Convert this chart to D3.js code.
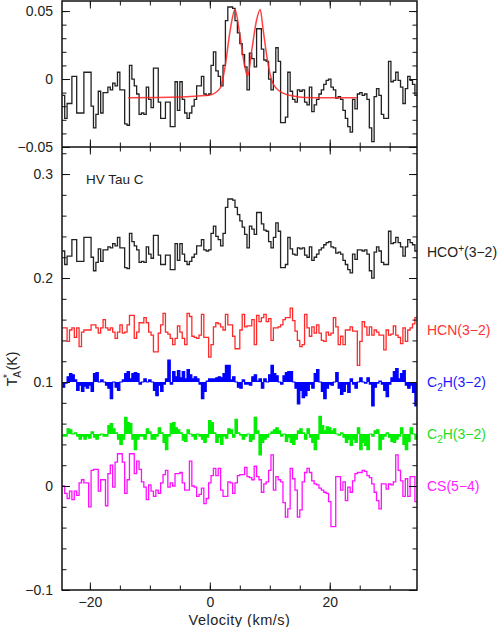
<!DOCTYPE html>
<html><head><meta charset="utf-8">
<script src="https://cdn.jsdelivr.net/npm/d3@7"></script>
<style>body{margin:0;background:#fff} text{font-family:"Liberation Sans",Arial,sans-serif}</style>
</head><body><svg id="c" width="500" height="627"></svg>
<script>
// channel grid (km/s)
const velStart = -24.6, chanWidth = 0.4;

// top panel: HCO+ spectrum with fit
const topSpec = [
-0.012,-0.029,-0.018,-0.018,0.002,0.002,-0.025,-0.025,-0.025,0.005,
0.005,0.005,-0.020,-0.036,-0.026,-0.009,-0.025,-0.010,-0.010,-0.006,
-0.008,-0.003,-0.005,0.005,-0.008,-0.008,-0.033,-0.034,0.010,0.000,
-0.005,-0.011,-0.026,-0.025,-0.026,-0.006,-0.015,-0.021,0.008,0.008,
-0.017,-0.029,-0.029,-0.017,-0.017,-0.035,-0.035,-0.002,-0.023,-0.002,
-0.015,-0.025,-0.029,-0.025,-0.020,-0.015,-0.005,-0.005,0.002,-0.011,
-0.012,-0.011,0.010,0.020,0.006,0.002,-0.005,0.010,0.043,0.053,
0.053,0.052,0.043,0.034,0.026,0.018,0.009,-0.008,0.019,0.015,
0.009,0.037,0.037,0.022,0.014,0.013,0.000,-0.008,0.005,0.023,
0.013,-0.032,-0.032,-0.028,0.005,-0.009,-0.015,-0.017,-0.008,-0.009,
-0.008,-0.017,-0.019,-0.006,-0.024,-0.019,-0.015,-0.011,-0.008,-0.004,
-0.001,0.000,-0.006,-0.008,-0.014,-0.013,-0.015,-0.023,-0.029,-0.035,
-0.039,-0.015,-0.022,-0.011,-0.010,-0.012,-0.011,-0.015,-0.036,-0.046,
-0.013,-0.007,-0.012,-0.026,-0.029,-0.029,0.013,-0.002,-0.001,0.005,
-0.001,-0.006,-0.018,-0.007,0.002,-0.001,-0.004,-0.012];

const fitVel = [-13.6,-5,-2,0,1.7,2.55,3.4,4.2,5.05,5.9,6.3,7.0,7.8,8.4,8.9,9.6,10.3,11.1,12.3,13.9,15.8,19,24.5];
const fitT = [-0.0138,-0.0133,-0.0125,-0.0118,-0.0069,0.0091,0.036,0.0512,0.0311,0.0078,0.0022,0.0213,0.0434,0.0512,0.036,0.014,-0.0007,-0.0069,-0.0105,-0.0125,-0.0135,-0.0138,-0.0138];

// bottom panel spectra (offset)
const hcoSpec = [
0.226,0.213,0.221,0.221,0.237,0.237,0.216,0.216,0.216,0.239,
0.239,0.239,0.220,0.207,0.215,0.228,0.216,0.227,0.227,0.230,
0.229,0.233,0.231,0.239,0.229,0.229,0.210,0.209,0.243,0.235,
0.231,0.227,0.215,0.216,0.215,0.230,0.223,0.219,0.241,0.241,
0.222,0.213,0.213,0.222,0.222,0.208,0.208,0.233,0.217,0.233,
0.223,0.216,0.213,0.216,0.220,0.223,0.231,0.231,0.237,0.227,
0.226,0.227,0.243,0.250,0.240,0.237,0.231,0.243,0.268,0.276,
0.276,0.275,0.268,0.261,0.255,0.249,0.242,0.229,0.250,0.247,
0.242,0.263,0.263,0.252,0.246,0.245,0.235,0.229,0.239,0.253,
0.245,0.210,0.210,0.213,0.239,0.228,0.223,0.222,0.229,0.228,
0.229,0.222,0.220,0.230,0.217,0.220,0.223,0.227,0.229,0.232,
0.234,0.235,0.230,0.229,0.224,0.225,0.223,0.217,0.213,0.208,
0.205,0.223,0.218,0.227,0.227,0.226,0.227,0.223,0.207,0.200,
0.225,0.230,0.226,0.215,0.213,0.213,0.245,0.233,0.234,0.239,
0.234,0.230,0.221,0.230,0.237,0.234,0.232,0.226];

const hcnSpec = [
0.152,0.152,0.139,0.150,0.152,0.143,0.152,0.134,0.148,0.150,
0.150,0.150,0.155,0.155,0.152,0.147,0.152,0.160,0.152,0.150,
0.152,0.148,0.142,0.148,0.155,0.147,0.148,0.155,0.164,0.164,
0.142,0.148,0.157,0.157,0.162,0.157,0.148,0.145,0.129,0.129,
0.147,0.155,0.166,0.148,0.146,0.142,0.136,0.142,0.154,0.148,
0.142,0.136,0.166,0.163,0.144,0.143,0.142,0.145,0.165,0.143,
0.143,0.124,0.136,0.153,0.157,0.156,0.153,0.150,0.165,0.155,
0.155,0.144,0.132,0.132,0.150,0.165,0.153,0.154,0.154,0.160,
0.136,0.164,0.158,0.162,0.165,0.158,0.161,0.140,0.152,0.152,
0.153,0.155,0.160,0.162,0.162,0.171,0.159,0.149,0.140,0.134,
0.136,0.165,0.152,0.144,0.153,0.147,0.155,0.147,0.140,0.139,
0.148,0.145,0.147,0.162,0.153,0.136,0.144,0.136,0.150,0.150,
0.153,0.149,0.149,0.116,0.139,0.158,0.153,0.145,0.153,0.145,
0.150,0.148,0.145,0.145,0.131,0.150,0.145,0.146,0.154,0.145,
0.143,0.137,0.152,0.139,0.150,0.152,0.156,0.162];

const c2hBlueSpec = [
0.095,0.099,0.105,0.108,0.107,0.102,0.092,0.097,0.091,0.096,
0.094,0.097,0.091,0.108,0.109,0.100,0.102,0.100,0.097,0.094,
0.084,0.100,0.095,0.092,0.100,0.102,0.108,0.110,0.103,0.108,
0.109,0.108,0.098,0.100,0.103,0.100,0.102,0.100,0.092,0.087,
0.097,0.091,0.098,0.103,0.121,0.098,0.110,0.105,0.111,0.104,
0.110,0.103,0.112,0.107,0.103,0.105,0.103,0.098,0.084,0.091,
0.101,0.103,0.103,0.103,0.104,0.105,0.104,0.108,0.116,0.116,
0.102,0.105,0.100,0.095,0.094,0.102,0.098,0.098,0.097,0.105,
0.107,0.101,0.103,0.094,0.103,0.100,0.107,0.116,0.108,0.106,
0.100,0.098,0.106,0.109,0.110,0.110,0.100,0.094,0.079,0.092,
0.085,0.087,0.092,0.098,0.094,0.108,0.112,0.100,0.091,0.084,
0.094,0.098,0.097,0.100,0.109,0.094,0.088,0.091,0.098,0.090,
0.103,0.098,0.094,0.100,0.104,0.100,0.099,0.104,0.098,0.077,
0.095,0.099,0.101,0.098,0.092,0.086,0.098,0.104,0.110,0.113,
0.103,0.108,0.111,0.097,0.094,0.097,0.090,0.077];

const c2hGreenSpec = [
0.048,0.048,0.055,0.054,0.050,0.051,0.048,0.045,0.048,0.045,
0.048,0.046,0.052,0.047,0.045,0.049,0.050,0.048,0.048,0.058,
0.060,0.055,0.051,0.045,0.040,0.045,0.066,0.061,0.060,0.045,
0.035,0.045,0.048,0.048,0.045,0.055,0.052,0.045,0.045,0.048,
0.056,0.051,0.042,0.035,0.048,0.060,0.061,0.056,0.054,0.051,
0.044,0.043,0.054,0.050,0.048,0.045,0.050,0.048,0.045,0.042,
0.047,0.063,0.061,0.051,0.042,0.047,0.040,0.048,0.046,0.055,
0.054,0.047,0.064,0.051,0.049,0.045,0.048,0.050,0.043,0.045,
0.066,0.053,0.030,0.042,0.045,0.047,0.050,0.052,0.054,0.056,
0.053,0.048,0.050,0.043,0.047,0.042,0.040,0.045,0.053,0.055,
0.051,0.045,0.055,0.047,0.042,0.035,0.045,0.067,0.058,0.053,
0.057,0.056,0.053,0.055,0.050,0.049,0.051,0.047,0.042,0.045,
0.039,0.045,0.042,0.056,0.035,0.042,0.039,0.035,0.050,0.048,
0.053,0.054,0.035,0.045,0.048,0.051,0.047,0.043,0.042,0.045,
0.048,0.056,0.040,0.035,0.043,0.056,0.050,0.045];

const csSpec = [
0.000,-0.007,-0.012,-0.005,-0.013,-0.005,-0.009,0.003,0.006,0.003,
0.003,-0.020,0.015,0.016,0.016,-0.005,0.006,0.006,-0.019,0.012,
0.020,-0.001,0.023,0.031,0.031,0.023,-0.007,0.006,0.031,0.031,
0.012,0.024,0.016,0.004,-0.001,-0.013,0.001,-0.005,-0.010,-0.004,
-0.007,0.003,0.011,0.015,-0.001,0.003,0.000,0.012,0.012,0.013,
0.003,-0.004,-0.004,0.024,0.000,-0.001,-0.010,-0.008,-0.002,-0.017,
-0.012,0.003,0.010,0.017,0.010,0.017,-0.004,-0.010,-0.010,0.004,
0.003,-0.007,0.003,0.010,0.011,0.011,0.018,0.009,0.008,0.006,
0.019,0.009,0.006,-0.006,0.002,0.004,0.015,0.030,-0.004,0.009,
0.006,0.004,-0.016,-0.030,-0.022,0.017,0.007,-0.004,-0.030,-0.023,
0.004,0.013,0.017,0.013,0.005,0.002,0.001,-0.002,-0.004,-0.006,
-0.007,-0.015,-0.039,-0.039,0.009,0.009,-0.004,0.004,-0.014,-0.001,
-0.006,0.005,0.012,0.013,0.013,0.015,0.014,0.010,0.008,0.002,
-0.006,-0.014,-0.022,0.002,0.002,-0.003,0.002,0.001,0.004,0.030,
0.015,0.005,-0.010,0.007,-0.010,0.009,0.009,-0.015];

const lineNames = ["HCO+(3\u22122)","HCN(3\u22122)","C2H(3\u22122)","C2H(3\u22122)","CS(5\u22124)"];
const lineLevels = [0.225, 0.15, 0.1, 0.05, 0.0];
const topYTicks = [-0.05, 0, 0.05];
const botYTicks = [-0.1, 0, 0.1, 0.2, 0.3];
const xTickLabels = [-20, 0, 20];
const sourceName = "HV Tau C";

const svg = d3.select("#c");
const L = 62, R = 417, T1 = 1, B1 = 147, B2 = 590;
const x = d3.scaleLinear([-24.65, 34.55], [L, R]);
const yTop = d3.scaleLinear([-0.05, 0.0574], [B1, T1]);
const yBot = d3.scaleLinear([-0.1, 0.326], [B2, B1]);

const defs = svg.append("defs");
defs.append("clipPath").attr("id","cTop").append("rect").attr("x",L).attr("y",T1).attr("width",R-L).attr("height",B1-T1);
defs.append("clipPath").attr("id","cBot").append("rect").attr("x",L).attr("y",B1).attr("width",R-L).attr("height",B2-B1);

function stepData(vals){
  return d3.range(vals.length + 1).map(i => [velStart + i*chanWidth, vals[Math.min(i, vals.length-1)]]);
}
function stepLine(y){ return d3.line().x(d=>x(d[0])).y(d=>y(d[1])).curve(d3.curveStepAfter); }

const gTop = svg.append("g").attr("clip-path","url(#cTop)");
const gBot = svg.append("g").attr("clip-path","url(#cBot)");

function filled(vals, base, color){
  const area = d3.area().x(d=>x(d[0])).y0(yBot(base)).y1(d=>yBot(d[1])).curve(d3.curveStepAfter);
  gBot.append("path").attr("d", area(stepData(vals))).attr("fill", color);
  gBot.append("path").attr("d", stepLine(yBot)(stepData(vals))).attr("fill","none").attr("stroke",color).attr("stroke-width",1.2);
}

gTop.append("path").attr("d", stepLine(yTop)(stepData(topSpec))).attr("fill","none").attr("stroke","#222").attr("stroke-width",1.3);
gTop.append("path").attr("d", d3.line().x((d,i)=>x(fitVel[i])).y(d=>yTop(d)).curve(d3.curveMonotoneX)(fitT))
  .attr("fill","none").attr("stroke","#ff2020").attr("stroke-width",1.5).attr("opacity",0.85);

gBot.append("path").attr("d", stepLine(yBot)(stepData(hcoSpec))).attr("fill","none").attr("stroke","#222").attr("stroke-width",1.3);
gBot.append("path").attr("d", stepLine(yBot)(stepData(hcnSpec))).attr("fill","none").attr("stroke","#ff2a2a").attr("stroke-width",1.3);
filled(c2hBlueSpec, 0.1, "#0000ff");
filled(c2hGreenSpec, 0.05, "#00ee00");
gBot.append("path").attr("d", stepLine(yBot)(stepData(csSpec))).attr("fill","none").attr("stroke","#ff10ff").attr("stroke-width",1.3);

// axes
const fmt = d3.format("~g");
const xMinor = d3.range(-4, 7).map(k => k*5);
function styleAxis(g){ g.select(".domain").remove(); g.selectAll("line").attr("stroke","#111"); g.selectAll("text").attr("font-size",14).attr("fill","#222").attr("font-family","Liberation Sans, Arial, sans-serif"); }

function panelAxes(y, top, bottom, minorY, majorY, labelsY, labelsX){
  svg.append("g").attr("transform",`translate(${L},0)`).call(d3.axisLeft(y).tickValues(minorY).tickSize(-4.5).tickFormat("")).call(styleAxis);
  svg.append("g").attr("transform",`translate(${L},0)`).call(d3.axisLeft(y).tickValues(majorY).tickSize(-8).tickPadding(9).tickFormat(labelsY ? fmt : "")).call(styleAxis);
  svg.append("g").attr("transform",`translate(${R},0)`).call(d3.axisRight(y).tickValues(minorY).tickSize(-4.5).tickFormat("")).call(styleAxis);
  svg.append("g").attr("transform",`translate(${R},0)`).call(d3.axisRight(y).tickValues(majorY).tickSize(-8).tickFormat("")).call(styleAxis);
  svg.append("g").attr("transform",`translate(0,${bottom})`).call(d3.axisBottom(x).tickValues(xMinor).tickSize(-4.5).tickFormat("")).call(styleAxis);
  svg.append("g").attr("transform",`translate(0,${bottom})`).call(d3.axisBottom(x).tickValues(xTickLabels).tickSize(-7.5).tickPadding(7).tickFormat(labelsX ? fmt : "")).call(styleAxis);
  svg.append("g").attr("transform",`translate(0,${top})`).call(d3.axisTop(x).tickValues(xMinor).tickSize(-4.5).tickFormat("")).call(styleAxis);
  svg.append("g").attr("transform",`translate(0,${top})`).call(d3.axisTop(x).tickValues(xTickLabels).tickSize(-7.5).tickFormat("")).call(styleAxis);
}
panelAxes(yTop, T1, B1, d3.range(-5, 6).map(k => k/100), topYTicks, true, false);
panelAxes(yBot, B1, B2, d3.range(-5, 17).map(k => k*0.02), botYTicks, true, true);

// frames
svg.append("rect").attr("x",L).attr("y",T1).attr("width",R-L).attr("height",B2-T1).attr("fill","none").attr("stroke","#111").attr("stroke-width",1.5);
svg.append("line").attr("x1",L).attr("x2",R).attr("y1",B1).attr("y2",B1).attr("stroke","#111").attr("stroke-width",1.5);

// labels
svg.append("text").attr("x",86).attr("y",184).attr("font-size",13.5).attr("fill","#222").text(sourceName);

const labelColors = ["#222","#ff3333","#1a1aff","#22dd22","#ff22ff"];
const labelDy = [5, 5, 5, 5, 4.5];
lineNames.forEach((nm, k) => {
  const t = svg.append("text").attr("x", 427).attr("y", yBot(lineLevels[k]) + labelDy[k]).attr("font-size",14).attr("fill",labelColors[k]);
  if (k === 0) {
    t.append("tspan").text("HCO");
    t.append("tspan").attr("dy",-5).attr("font-size",10).text("+");
    t.append("tspan").attr("dy",5).text(nm.slice(4));
  } else if (k === 2 || k === 3) {
    t.append("tspan").text("C");
    t.append("tspan").attr("dy",4).attr("font-size",10).text("2");
    t.append("tspan").attr("dy",-4).text(nm.slice(2));
  } else {
    t.text(nm);
  }
});

// y axis title
const yt = svg.append("text").attr("transform","translate(17,369) rotate(-90)").attr("text-anchor","middle").attr("font-size",14).attr("fill","#222");
yt.append("tspan").text("T");
yt.append("tspan").attr("dy",4).attr("font-size",10).text("A");
yt.append("tspan").attr("dx",-7).attr("dy",-10).attr("font-size",10).text("*");
yt.append("tspan").attr("dy",6).text(" (K)");

// x axis title
svg.append("text").attr("x",239.5).attr("y",625).attr("text-anchor","middle").attr("font-size",14.5).attr("letter-spacing",0.5).attr("fill","#222").text("Velocity (km/s)");
</script></body></html>
